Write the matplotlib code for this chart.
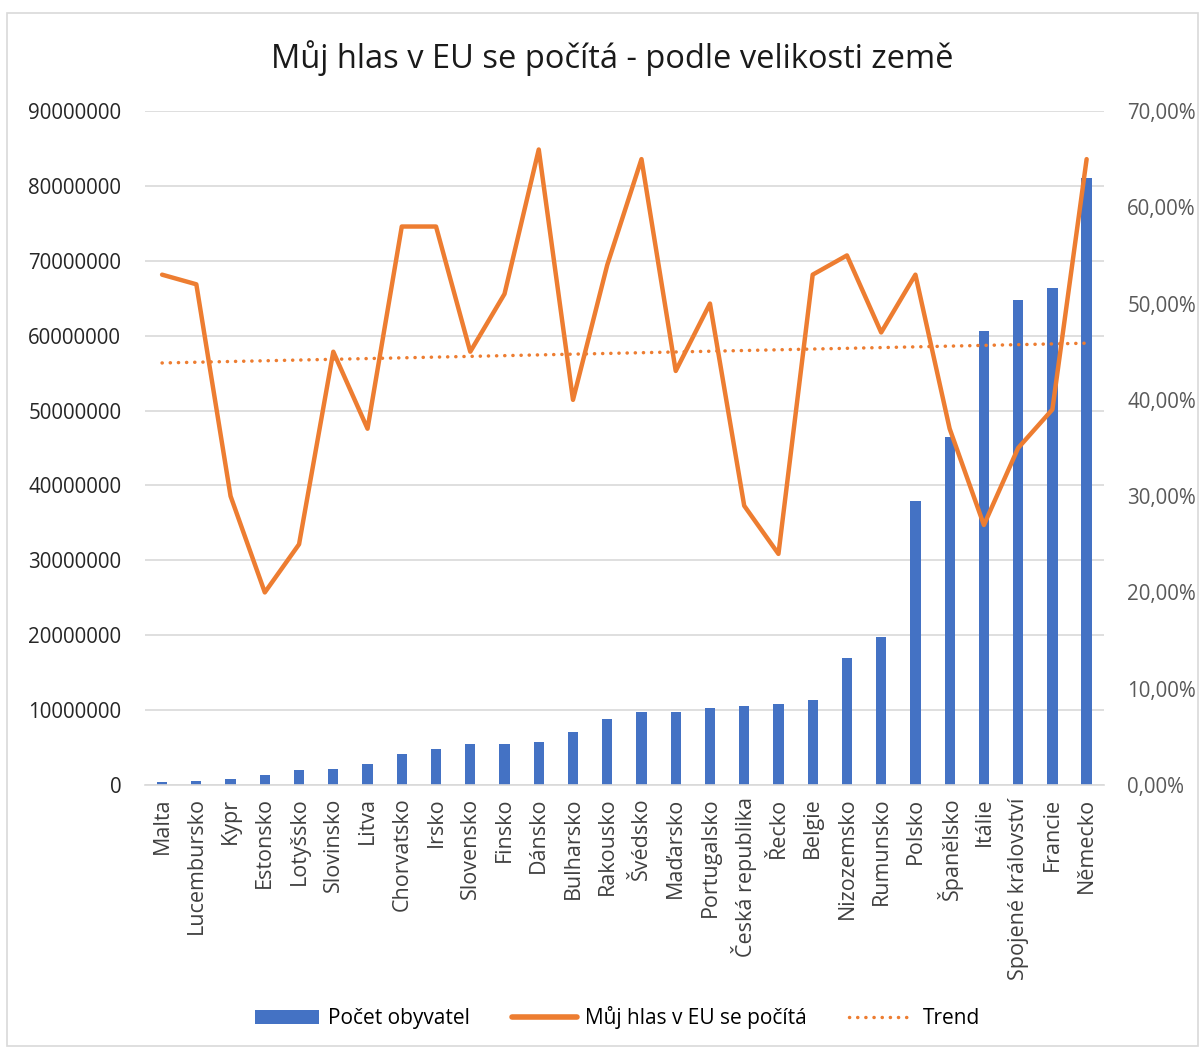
import matplotlib.pyplot as plt
import numpy as np
from matplotlib.lines import Line2D
from matplotlib.patches import Patch

countries = ["Malta", "Lucembursko", "Kypr", "Estonsko", "Lotyšsko", "Slovinsko", "Litva",
             "Chorvatsko", "Irsko", "Slovensko", "Finsko", "Dánsko", "Bulharsko", "Rakousko",
             "Švédsko", "Maďarsko", "Portugalsko", "Česká republika", "Řecko", "Belgie",
             "Nizozemsko", "Rumunsko", "Polsko", "Španělsko", "Itálie", "Spojené království",
             "Francie", "Německo"]
population = [460000, 590000, 860000, 1320000, 1950000, 2070000, 2850000,
              4150000, 4750000, 5430000, 5500000, 5750000, 7100000, 8750000,
              9800000, 9800000, 10300000, 10550000, 10800000, 11300000,
              17000000, 19700000, 37900000, 46400000, 60600000, 64800000,
              66300000, 81000000]
vote_counts = [53, 52, 30, 20, 25, 45, 37,
               58, 58, 45, 51, 66, 40, 54,
               65, 43, 50, 29, 24, 53,
               55, 47, 53, 37, 27, 35,
               39, 65]

FONT = ["Open Sans", "DejaVu Sans"]
plt.rcParams["font.family"] = FONT

BLUE = "#4472C4"
ORANGE = "#ED7D31"
GRID = "#D9D9D9"
TREND_STYLE = (0, (0.05, 2.3))

fig = plt.figure(figsize=(12.03, 10.5), dpi=100)
fig.patches.append(plt.Rectangle((0.006, 0.004), 0.99, 0.984, transform=fig.transFigure,
                                 fill=False, edgecolor="#D9D9D9", linewidth=1.2))

ax = fig.add_axes([0.1205, 0.2524, 0.797, 0.6419])
ax2 = ax.twinx()

x = np.arange(len(countries))
ax.bar(x, population, width=0.3, color=BLUE, zorder=2)

pct = np.array(vote_counts) / 100.0
ax2.plot(x, pct, color=ORANGE, linewidth=3.2, solid_joinstyle="round",
         solid_capstyle="round", zorder=3)
# linear trendline like Excel's
coef = np.polyfit(x, pct, 1)
ax2.plot(x, np.polyval(coef, x), color=ORANGE, linewidth=2.5,
         linestyle=TREND_STYLE, dash_capstyle="round", zorder=3)

ax.set_xlim(-0.5, len(countries) - 0.5)
ax.set_ylim(0, 90000000)
ax.set_yticks(np.arange(0, 90000001, 10000000))
ax.set_yticklabels([str(v) for v in range(0, 90000001, 10000000)])
ax2.set_ylim(0, 0.7)
ax2.set_yticks(np.arange(0, 0.71, 0.1))
ax2.set_yticklabels([f"{v:.2f}%".replace(".", ",") for v in np.arange(0, 71, 10)])

ax.grid(axis="y", color=GRID, linewidth=1.2, zorder=0)
ax.set_axisbelow(True)
for a in (ax, ax2):
    for s in a.spines.values():
        s.set_visible(False)
ax.spines["bottom"].set_visible(True)
ax.spines["bottom"].set_color(GRID)
ax.spines["bottom"].set_linewidth(1.2)

ax.set_xticks(x)
ax.set_xticklabels(countries, rotation=90, fontsize=15.5, color="#404040")
ax.tick_params(axis="x", length=0, pad=9)
ax.tick_params(axis="y", length=0, pad=17, labelsize=14.8, labelcolor="#262626")
ax2.tick_params(axis="y", length=0, pad=17, labelsize=14.8, labelcolor="#595959")

fig.text(0.509, 0.945, "Můj hlas v EU se počítá - podle velikosti země",
         ha="center", va="center", fontsize=23.5, color="#1a1a1a")

handles = [Patch(facecolor=BLUE),
           Line2D([0], [0], color=ORANGE, linewidth=4, solid_capstyle="round"),
           Line2D([0], [0], color=ORANGE, linewidth=2.5, linestyle=TREND_STYLE,
                  dash_capstyle="round")]
fig.legend(handles, ["Počet obyvatel", "Můj hlas v EU se počítá", "Trend"],
           loc="center", bbox_to_anchor=(0.513, 0.0305), ncol=3, frameon=False,
           handlelength=3.1, handleheight=0.65, columnspacing=2.05,
           handletextpad=0.4, prop={"family": FONT, "size": 15})

fig.savefig("out.png", dpi=100)
